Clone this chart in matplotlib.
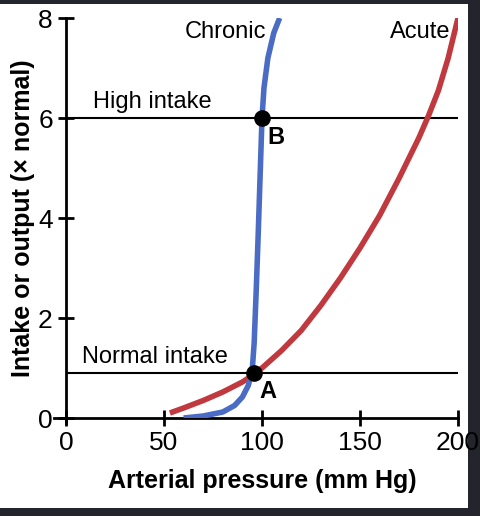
import matplotlib.pyplot as plt
from matplotlib.patches import Rectangle

acute_x = [53, 60, 70, 80, 90, 95, 100, 110, 120, 130, 140, 150, 160, 170, 180, 185, 190, 195, 200]
acute_y = [0.1, 0.2, 0.35, 0.52, 0.72, 0.85, 1.0, 1.35, 1.75, 2.25, 2.8, 3.4, 4.05, 4.8, 5.6, 6.05, 6.55, 7.2, 8.0]
chronic_x = [60, 70, 80, 86, 90, 93, 95, 96, 97, 98, 99, 100, 101, 103, 106, 109]
chronic_y = [0.0, 0.04, 0.12, 0.25, 0.42, 0.65, 0.95, 1.5, 2.5, 3.6, 4.8, 6.0, 6.6, 7.2, 7.7, 8.0]
intake_levels = [0.9, 6.0]
intake_labels = ["Normal intake", "High intake"]
points_x = [96, 100]
points_y = [0.9, 6.0]
point_labels = ["A", "B"]

plt.rcParams["font.family"] = "Liberation Sans"

fig = plt.figure(figsize=(4.8, 5.16), dpi=100, facecolor="#24252c")
fig.patches.append(Rectangle((0, 8 / 516), 468 / 480, 504 / 516, transform=fig.transFigure,
                             facecolor="white", edgecolor="none", zorder=-1))
ax = fig.add_axes([66 / 480, (516 - 418) / 516, 392 / 480, 400 / 516])
ax.set_facecolor("white")

for lvl, lab, lx in zip(intake_levels, intake_labels, [8, 14]):
    ax.axhline(lvl, color="black", lw=1.5, zorder=1)
    ax.text(lx, lvl + 0.1, lab, fontsize=17, va="bottom", ha="left", fontstretch="condensed")

ax.plot(acute_x, acute_y, color="#c0393f", lw=4, solid_capstyle="butt", zorder=2)
ax.plot(chronic_x, chronic_y, color="#4a6cc4", lw=4, solid_capstyle="butt", zorder=3)
ax.scatter(points_x, points_y, s=120, color="black", zorder=4)
for px, py, pl in zip(points_x, points_y, point_labels):
    ax.text(px + 2.5, py - 0.15, pl, fontsize=17, fontweight="bold", va="top")

ax.text(102, 7.95, "Chronic", fontsize=17, ha="right", va="top")
ax.text(196, 7.95, "Acute", fontsize=17, ha="right", va="top")

ax.set_xlim(0, 200)
ax.set_ylim(0, 8)
ax.set_xticks([0, 50, 100, 150, 200])
ax.set_yticks([0, 2, 4, 6, 8])
ax.tick_params(direction="inout", length=12, width=2, labelsize=19)
for s in ["top", "right"]:
    ax.spines[s].set_visible(False)
for s in ["left", "bottom"]:
    ax.spines[s].set_linewidth(2)
ax.spines["bottom"].set_bounds(-6, 200)
ax.spines["left"].set_bounds(-0.1, 8)
ax.set_xlabel("Arterial pressure (mm Hg)", fontsize=18, fontweight="bold", labelpad=10)
ax.set_ylabel("Intake or output (× normal)", fontsize=18, fontweight="bold", labelpad=2)

fig.savefig("out.png", dpi=100, facecolor=fig.get_facecolor())
